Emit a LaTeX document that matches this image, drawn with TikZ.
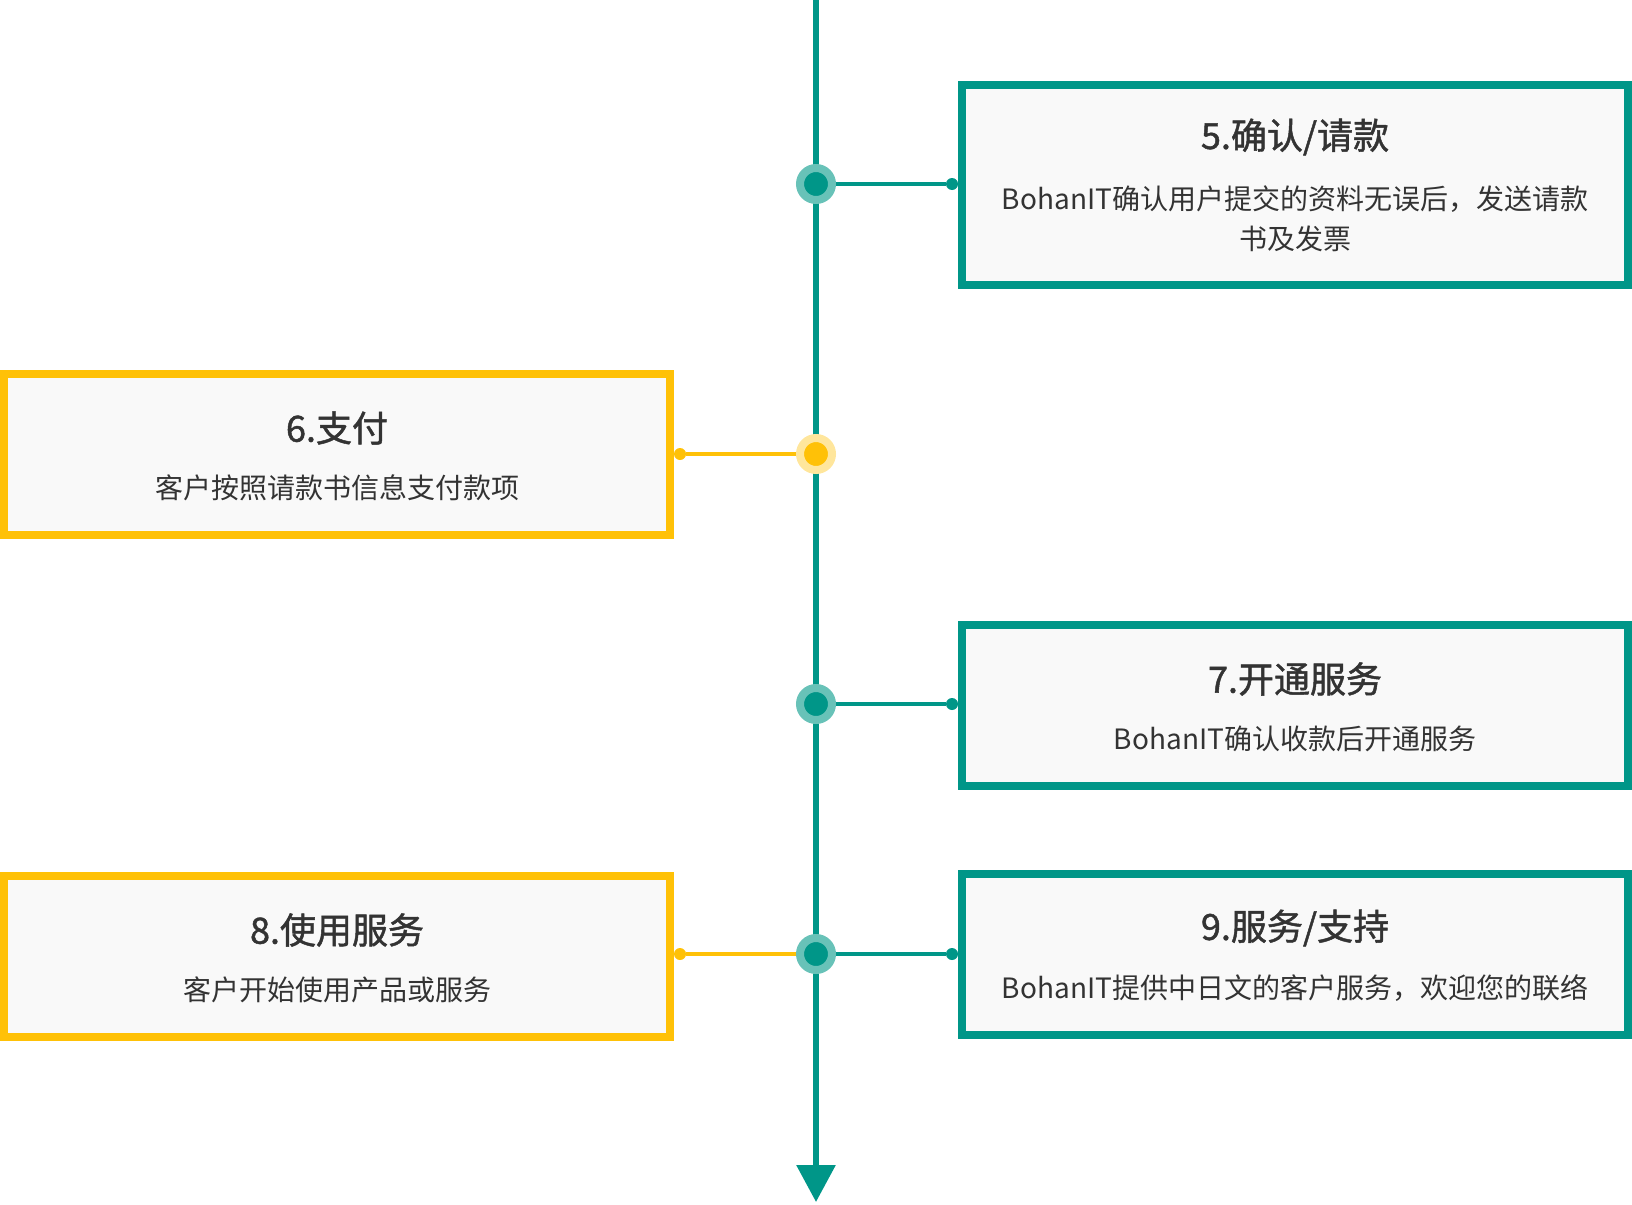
\documentclass[tikz,border=0pt]{standalone}
\usepackage{fontspec}
\setmainfont{Noto Sans CJK SC}
\newfontfamily\headfont{Noto Sans CJK SC}[FakeBold=1.3]
\usetikzlibrary{arrows.meta}
\definecolor{jade}{RGB}{0,150,136}
\definecolor{jadesoft}{RGB}{104,194,184}
\definecolor{gold}{RGB}{255,193,7}
\definecolor{goldsoft}{RGB}{255,230,156}
\definecolor{paper}{RGB}{249,249,249}
\definecolor{ink}{RGB}{51,51,51}
\tikzset{
  card/.style={draw=#1,fill=paper,line width=8pt,minimum width=666pt,
    minimum height=161pt,inner sep=0pt,outer sep=0pt},
  card/.default=jade,
  ring/.style 2 args={circle,fill=#1,draw=#2,line width=8pt,minimum size=32pt,inner sep=0pt},
  pin/.style={circle,fill=#1,inner sep=0pt,minimum size=12pt},
  pin/.default=jade,
  link/.style={draw=#1,line width=4pt},
  link/.default=jade,
  spine/.style={draw=jade,line width=6pt,-{Triangle[length=37pt,width=38pt]}},
  headline/.style={text=ink,font=\headfont\fontsize{36}{44}\selectfont,inner sep=0pt},
  blurb/.style={text=ink,font=\fontsize{28}{40}\selectfont,align=center,inner sep=0pt},
}
\begin{document}
\begin{tikzpicture}[x=1pt,y=-1pt]
  \useasboundingbox (0,0) rectangle (1632,1204);
  \coordinate (top) at (816,0);
  \coordinate (end) at (816,1202);
  \draw[spine] (top) -- (end);
  % cards
  \node[card=jade,minimum height=200pt] (c5) at (1295,185) {};
  \node[card=gold] (c6) at (337,454.5) {};
  \node[card=jade] (c7) at (1295,705) {};
  \node[card=gold] (c8) at (337,956) {};
  \node[card=jade] (c9) at (1295,954.5) {};
  % texts
  \node[headline] (h5) at (1295,137) {5.确认/请款};
  \node[blurb] (b5) at (1295,219) {BohanIT确认用户提交的资料无误后，发送请款\\书及发票};
  \node[headline] (h6) at (337,428) {6.支付};
  \node[blurb] (b6) at (337,488) {客户按照请款书信息支付款项};
  \node[headline] (h7) at (1295,679) {7.开通服务};
  \node[blurb] (b7) at (1295,739) {BohanIT确认收款后开通服务};
  \node[headline] (h8) at (337,930) {8.使用服务};
  \node[blurb] (b8) at (337,990) {客户开始使用产品或服务};
  \node[headline] (h9) at (1295,928) {9.服务/支持};
  \node[blurb] (b9) at (1295,988) {BohanIT提供中日文的客户服务，欢迎您的联络};
  % milestones
  \node[ring={jade}{jadesoft}] (r5) at (816,184) {};
  \node[ring={gold}{goldsoft}] (r6) at (816,454) {};
  \node[ring={jade}{jadesoft}] (r7) at (816,704) {};
  \node[ring={jade}{jadesoft}] (r9) at (816,954) {};
  \node[pin] (p5) at (952,184) {};
  \node[pin=gold] (p6) at (680,454) {};
  \node[pin] (p7) at (952,704) {};
  \node[pin=gold] (p8) at (680,954) {};
  \node[pin] (p9) at (952,954) {};
  \draw[link] (r5) -- (p5);
  \draw[link=gold] (r6) -- (p6);
  \draw[link] (r7) -- (p7);
  \draw[link=gold] (r9) -- (p8);
  \draw[link] (r9) -- (p9);
\end{tikzpicture}
\end{document}
